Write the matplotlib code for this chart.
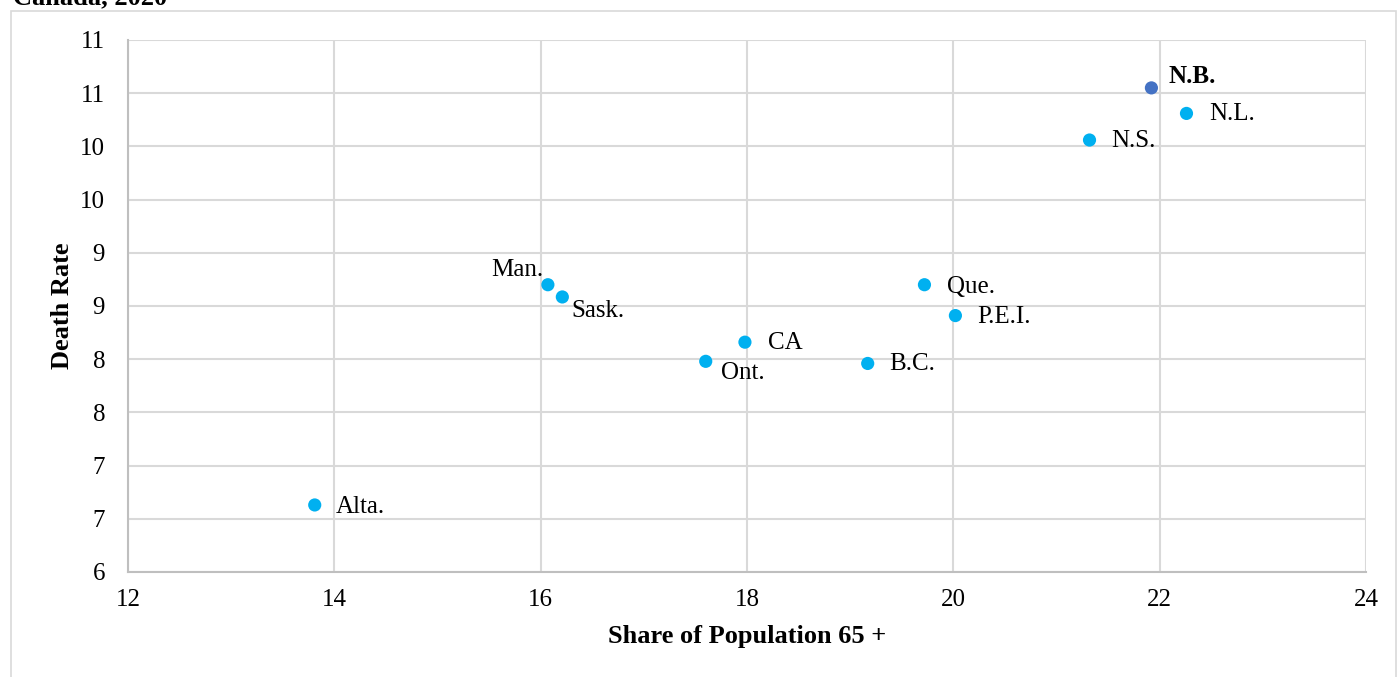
import numpy as np
import matplotlib
matplotlib.use("Agg")
import matplotlib.pyplot as plt
from matplotlib.patches import Rectangle

plt.rcParams['font.family'] = ['Liberation Serif', 'DejaVu Serif']

provinces = ['Alta.', 'Man.', 'Sask.', 'Ont.', 'CA', 'B.C.', 'Que.', 'P.E.I.', 'N.S.', 'N.B.', 'N.L.']
share_65 = [13.81, 16.07, 16.21, 17.60, 17.98, 19.17, 19.72, 20.02, 21.32, 21.92, 22.26]
death_rate = [6.63, 8.70, 8.585, 7.98, 8.16, 7.96, 8.70, 8.41, 10.06, 10.55, 10.31]
highlight = 'N.B.'

x_ticks = [12, 14, 16, 18, 20, 22, 24]
y_ticks = [6, 6.5, 7, 7.5, 8, 8.5, 9, 9.5, 10, 10.5, 11]
y_tick_labels = ['6', '7', '7', '8', '8', '9', '9', '10', '10', '11', '11']

# label offsets in pixels (dx, dy) and horizontal alignment
label_style = {
    'Alta.': (21, -2, 'left'),
    'Man.': (-5, 15, 'right'),
    'Sask.': (9, -14, 'left'),
    'Ont.': (15, -12, 'left'),
    'CA': (23, -1, 'left'),
    'B.C.': (22, -1, 'left'),
    'Que.': (23, -2, 'left'),
    'P.E.I.': (22, -1, 'left'),
    'N.S.': (22, -1, 'left'),
    'N.B.': (17, 11, 'left'),
    'N.L.': (23, -1, 'left'),
}

W, H = 1397, 677
fig = plt.figure(figsize=(W / 100, H / 100), dpi=100)
ax = fig.add_axes([128 / W, 1 - 572 / H, (1366 - 128) / W, (572 - 40) / H])

# outer chart border
fig.patches.append(Rectangle((11 / W, -0.05), (W - 12) / W, 1 - 11 / H + 0.05,
                             transform=fig.transFigure, fill=False,
                             edgecolor='#D9D9D9', linewidth=1.2, zorder=0))

colors = ['#4472C4' if p == highlight else '#00B0F0' for p in provinces]
ax.scatter(share_65, death_rate, s=90, c=colors, zorder=3, linewidths=0)

for p, x, y in zip(provinces, share_65, death_rate):
    dx, dy, ha = label_style[p]
    ax.annotate(p, (x, y), xytext=(dx, dy), textcoords='offset pixels',
                ha=ha, va='center', fontsize=18,
                fontweight='bold' if p == highlight else 'normal', color='#000000')

ax.set_xlim(12, 24)
ax.set_ylim(6, 11)
ax.set_xticks(x_ticks)
ax.set_xticklabels([str(t) for t in x_ticks])
ax.set_yticks(y_ticks)
ax.set_yticklabels(y_tick_labels)
ax.tick_params(axis='both', length=0, labelsize=18, colors='#000000')
ax.tick_params(axis='y', pad=16.5)
ax.tick_params(axis='x', pad=12)
ax.grid(True, color='#D9D9D9', linewidth=1.5)
ax.set_axisbelow(True)
for side in ['top', 'right']:
    ax.spines[side].set_visible(False)
for side in ['left', 'bottom']:
    ax.spines[side].set_color('#BFBFBF')
    ax.spines[side].set_linewidth(1.5)

ax.set_xlabel('Share of Population 65 +', fontsize=19, fontweight='bold', va='center')
ax.set_ylabel('Death Rate', fontsize=19, fontweight='bold', va='center')
ax.xaxis.set_label_coords(0.5, (572 - 637) / 532)
ax.yaxis.set_label_coords((62 - 128) / 1238, 0.5)

fig.text(13 / W, 1 - 4 / H, 'Canada, 2020', fontsize=19, fontweight='bold',
         ha='left', va='baseline')

fig.savefig('out.png', dpi=100)
